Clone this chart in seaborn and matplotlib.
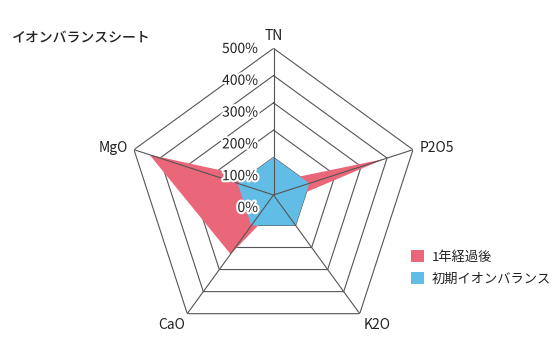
import numpy as np
import matplotlib
matplotlib.use("Agg")
import matplotlib.pyplot as plt
import matplotlib.patheffects as pe
import seaborn as sns

# ---- data ----
categories = ["TN", "P2O5", "K2O", "CaO", "MgO"]
after_one_year = [10, 390, 0, 230, 440]        # 1年経過後 (%)
initial_balance = [100, 100, 100, 100, 100]    # 初期イオンバランス (%)
series_labels = ["1年経過後", "初期イオンバランス"]
tick_values = [500, 400, 300, 200, 100, 0]
tick_labels = ["500%", "400%", "300%", "200%", "100%", "0%"]
title = "イオンバランスシート"

sns.set_theme(style="white")
plt.rcParams["font.family"] = ["Noto Sans CJK JP", "DejaVu Sans"]

RED = "#EA6679"
BLUE = "#62BDE6"
GRID = "#555555"
TXT = "#222222"
RMIN, RMAX = -38, 500

W, H = 560, 360
fig = plt.figure(figsize=(W / 100, H / 100), dpi=100)
fig.patch.set_facecolor("white")

cx, cy, R = 273.5, 195.0, 146.7
ax = fig.add_axes([(cx - R) / W, (H - cy - R) / H, 2 * R / W, 2 * R / H], projection="polar")
ax.set_theta_offset(np.pi / 2)
ax.set_theta_direction(-1)
ax.set_ylim(RMIN, RMAX)
ax.set_xticks([])
ax.set_yticks([])
ax.grid(False)
ax.spines["polar"].set_visible(False)
ax.set_facecolor("none")

n = len(categories)
theta = np.linspace(0, 2 * np.pi, n, endpoint=False)
theta_c = np.append(theta, theta[0])

# rings (under fills)
for v in tick_values:
    if v <= 0:
        continue
    ax.plot(theta_c, [v] * (n + 1), color=GRID, lw=0.8, zorder=1)

# series
ax.fill(theta_c, after_one_year + after_one_year[:1], color=RED, lw=0, zorder=2, label=series_labels[0])
ax.fill(theta_c, initial_balance + initial_balance[:1], color=BLUE, lw=0, zorder=3, label=series_labels[1])

# spokes (over fills)
for t in theta:
    ax.plot([t, t], [RMIN, RMAX], color=GRID, lw=0.8, zorder=4)

# category labels
offsets = {"TN": (0, 12, "center"), "P2O5": (7, 2, "left"), "K2O": (17, -11, "center"),
           "CaO": (-16, -11, "center"), "MgO": (-6, 2, "right")}
for t, c in zip(theta, categories):
    dx, dy, ha = offsets[c]
    ax.annotate(c, xy=(t, RMAX), xytext=(dx, dy), textcoords="offset pixels",
                ha=ha, va="center", fontsize=10, color=TXT, zorder=6,
                annotation_clip=False)

# tick labels (stacked at left of the TN axis, white halo)
for i, lbl in enumerate(tick_labels):
    ypix = 49 + i * 31.8
    fig.text(258 / W, 1 - ypix / H, lbl, ha="right", va="center", fontsize=10,
             color=TXT, zorder=7,
             path_effects=[pe.withStroke(linewidth=3, foreground="white")])

# title
fig.text(12 / W, 1 - 38 / H, title, ha="left", va="center", fontsize=10, color="#222222",
         fontweight="medium")

# legend
handles, labels = ax.get_legend_handles_labels()
leg = fig.legend(handles, labels, loc="upper left", bbox_to_anchor=(411 / W, 1 - 250 / H),
                 frameon=False, fontsize=9.5, handlelength=1.0, handleheight=1.0,
                 handletextpad=0.55, labelspacing=0.65, borderpad=0, borderaxespad=0)
for t in leg.get_texts():
    t.set_color(TXT)

fig.savefig("out.png", dpi=100, facecolor="white")
